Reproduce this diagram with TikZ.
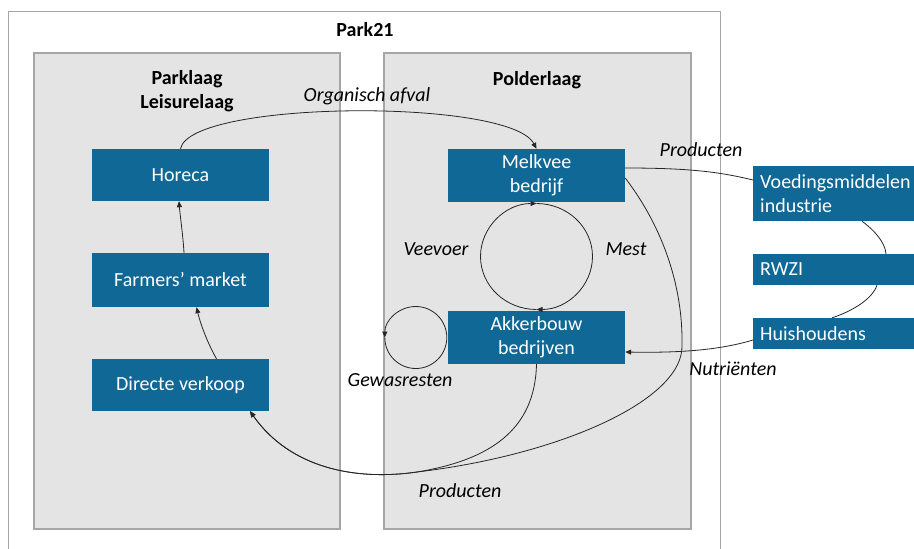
\documentclass[tikz,border=0pt]{standalone}
\usepackage{fontspec}
\setmainfont{Carlito}
\usetikzlibrary{arrows.meta,calc}
\definecolor{boxblue}{HTML}{0F6896}
\definecolor{layergray}{HTML}{E5E4E5}
\definecolor{framegray}{HTML}{A6A6A6}
\definecolor{linecol}{HTML}{262626}
\begin{document}
\begin{tikzpicture}[x=1pt,y=-1pt,
  font=\fontsize{20}{24}\selectfont,
  layerbox/.style={fill=layergray, draw=framegray, line width=1.3pt, inner sep=0pt},
  bluebox/.style={fill=boxblue, text=white, minimum width=177pt, align=center, inner sep=0pt},
  extbox/.style={fill=boxblue, text=white, anchor=west, text width=150pt, align=left, inner xsep=7pt, inner ysep=0pt},
  lbl/.style={font=\fontsize{20}{24}\selectfont\itshape, inner sep=0pt},
  ttl/.style={font=\fontsize{20}{24}\selectfont\bfseries, inner sep=0pt, align=center},
  flow/.style={draw=linecol, line width=0.8pt},
  tip/.style={-{Triangle[length=6pt,width=5pt]}}]

\useasboundingbox (0,0) rectangle (914,549);
\clip (0,0) rectangle (914,549);

% outer frame (bottom edge lies outside the picture)
\node[draw=framegray, line width=1.3pt, fill=white, minimum width=712pt, minimum height=600pt, inner sep=0pt, anchor=north west] (outer) at (8,10.5) {};

% layers
\node[layerbox, minimum width=306pt, minimum height=476pt] (parklayer) at (187,291) {};
\node[layerbox, minimum width=307pt, minimum height=476pt] (polderlayer) at (537.5,291) {};

% titles
\node[ttl] (park21) at (365,30) {Park21};
\node[ttl] (parkl) at (187,91.5) {Parklaag\\Leisurelaag};
\node[ttl] (polder) at (537,80) {Polderlaag};

% blue boxes
\node[bluebox, minimum height=52pt] (horeca) at (180.5,175) {Horeca};
\node[bluebox, minimum height=54pt] (farm) at (180.5,280) {Farmers’ market};
\node[bluebox, minimum height=52pt] (direct) at (180.5,385) {Directe verkoop};
\node[bluebox, minimum height=53pt] (melk) at (536.5,175.5) {Melkvee\\bedrijf};
\node[bluebox, minimum height=53pt] (akker) at (536.5,337.5) {Akkerbouw\\bedrijven};

\node[extbox, minimum height=55pt] (voed) at (753,193.5) {Voedingsmiddelen\\industrie};
\node[extbox, minimum height=31pt] (rwzi) at (753,269.5) {RWZI};
\node[extbox, minimum height=31pt] (huis) at (753,333.5) {Huishoudens};

% labels
\node[lbl] (org) at (367,96) {Organisch afval};
\node[lbl] (prod1) at (701,150) {Producten};
\node[lbl] (veev) at (436,249) {Veevoer};
\node[lbl] (mest) at (626,249) {Mest};
\node[lbl] (gewas) at (400,380) {Gewasresten};
\node[lbl] (nutr) at (733,369) {Nutriënten};
\node[lbl] (prod2) at (460,491) {Producten};

% connectors in the park layer
\draw[flow,tip] (horeca.north) .. controls (190,100) and (510,98) .. (melk.north);
\draw[flow,tip] ($(direct.north)+(36,0)$) .. controls (206,340) and (200,322) .. ($(farm.south)+(16,0)$);
\draw[flow,tip] ($(farm.north)+(3.5,0)$) .. controls (183,235) and (180,215) .. ($(horeca.south)+(-1.5,0)$);

% Veevoer / Mest cycle
\coordinate (cc) at ($(melk.south)!0.5!(akker.north)$);
\draw[flow,tip] ($(cc)+(0,53)$) arc[start angle=90,end angle=270,x radius=56,y radius=53];
\draw[flow,tip] ($(cc)+(0,-53)$) arc[start angle=270,end angle=450,x radius=56,y radius=53];

% Gewasresten loop
\coordinate (gc) at ($(akker.west)+(-32,0)$);
\draw[flow,tip] ($(gc)+(31,0)$) arc[start angle=360,end angle=180,radius=31];
\draw[flow] ($(gc)+(-31,0)$) arc[start angle=180,end angle=0,radius=31];

% Producten to Directe verkoop
\coordinate (merge) at (417,472);
\draw[flow,tip] ($(melk.east)+(0,2.5)$) .. controls (665,230) and (683,290) .. (682,345)
  .. controls (684,400) and (560,455) .. (merge)
  .. controls (355,481) and (290,468) .. ($(direct.south)+(69.5,0)$);
\draw[flow,tip] (akker.south) .. controls (535,430) and (490,460) .. (merge)
  .. controls (355,481) and (290,468) .. ($(direct.south)+(69.5,0)$);

% external chain
\draw[flow] ($(melk.east)+(0,-7.5)$) .. controls (690,168) and (720,172) .. ($(voed.west)+(0,-13.5)$);
\draw[flow] ($(voed.south west)+(109,0)$) .. controls (874,230) and (885,242) .. ($(rwzi.north west)+(133,0)$);
\draw[flow] ($(rwzi.south west)+(124,0)$) .. controls (872,300) and (850,312) .. ($(huis.north west)+(79,0)$);
\draw[flow,tip] ($(huis.west)+(0,6.5)$) .. controls (720,350) and (680,353) .. ($(akker.east)+(0,14.5)$);
\end{tikzpicture}
\end{document}
